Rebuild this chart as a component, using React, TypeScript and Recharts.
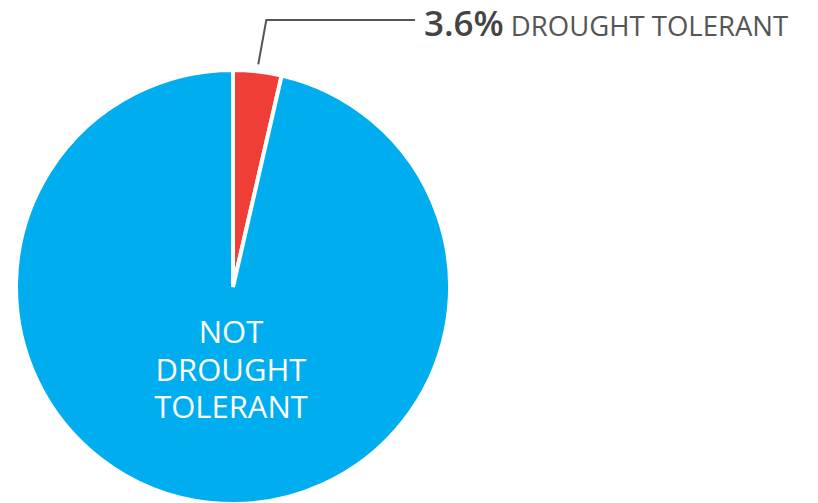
import React from "react"
import { PieChart, Pie, Cell } from "recharts"

const categories = ["DROUGHT TOLERANT", "NOT DROUGHT TOLERANT"]
const shares = [3.6, 96.4]
const colors = ["#EF3E36", "#00AEEF"]

const data = categories.map((name, i) => ({ name, value: shares[i] }))

const RADIAN = Math.PI / 180
const FONT = "'Open Sans', 'Noto Sans', sans-serif"

const renderLabel = (props: any) => {
  const { cx, cy, midAngle, outerRadius, index, payload } = props
  if (index === 0) {
    const sx = cx + (outerRadius + 7) * Math.cos(-midAngle * RADIAN)
    const sy = cy + (outerRadius + 7) * Math.sin(-midAngle * RADIAN)
    const ex = sx + 8
    const ey = 20
    const tx = 415
    return (
      <g>
        <polyline
          points={`${sx},${sy} ${ex},${ey} ${tx},${ey}`}
          fill="none"
          stroke="#555"
          strokeWidth={2}
        />
        <text x={tx + 9} y={ey + 16} fontFamily={FONT} fill="#444">
          <tspan fontSize={35} fontWeight={600}>{`${payload.value}%`}</tspan>
          <tspan fontSize={27.5} fill="#555" dx={7}>{payload.name}</tspan>
        </text>
      </g>
    )
  }
  const lines = ["NOT", "DROUGHT", "TOLERANT"]
  return (
    <text
      x={cx - 2}
      textAnchor="middle"
      fill="#fff"
      fontFamily={FONT}
      fontSize={31}
    >
      {lines.map((l, i) => (
        <tspan key={l} x={cx - 2} y={cy + 56 + i * 37.5}>
          {l}
        </tspan>
      ))}
    </text>
  )
}

export default function App() {
  return (
    <div style={{ position: "absolute", left: 0, top: 0, width: 818, height: 503, background: "#fff" }}>
      <PieChart width={818} height={503} margin={{ top: 0, right: 0, bottom: 0, left: 0 }}>
        <Pie
          data={data}
          dataKey="value"
          nameKey="name"
          cx={233}
          cy={287}
          outerRadius={217}
          startAngle={90}
          endAngle={-270}
          stroke="#fff"
          strokeWidth={4}
          label={renderLabel}
          labelLine={false}
          isAnimationActive={false}
        >
          {data.map((d, i) => (
            <Cell key={d.name} fill={colors[i]} />
          ))}
        </Pie>
      </PieChart>
    </div>
  )
}
